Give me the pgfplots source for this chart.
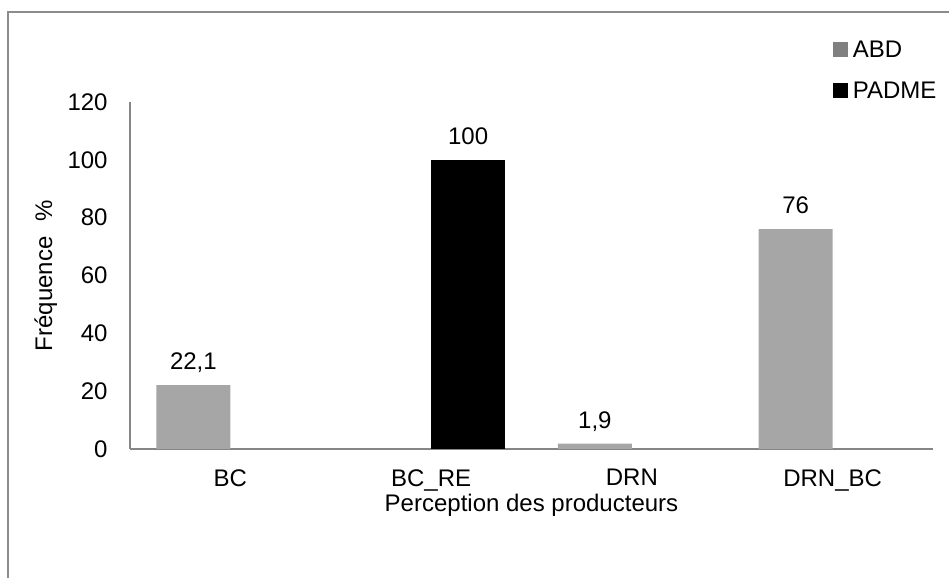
\documentclass[border=0pt,12pt]{standalone}
\usepackage{fontspec}
\setmainfont{Liberation Sans}
\usepackage{pgfplots}
\pgfplotsset{compat=1.18}
\definecolor{abdbar}{HTML}{A6A6A6}
\definecolor{abdleg}{HTML}{808080}
\definecolor{axgray}{HTML}{868686}
\definecolor{framegray}{HTML}{8C8C8C}
\begin{document}
\begin{tikzpicture}[font=\fontsize{12pt}{14pt}\selectfont]
\path[use as bounding box] (-65pt,-64.5pt) rectangle (409.5pt,224.5pt);
\draw[framegray, line width=0.75pt] (-61pt,-64.5pt) -- (-61pt,218.5pt) -- (409.5pt,218.5pt);
\begin{axis}[
  scale only axis,
  width=401.5pt, height=173.5pt,
  xmin=-0.5, xmax=3.5, ymin=0, ymax=120,
  enlargelimits=false,
  axis lines=left,
  axis line style={axgray, line width=1pt, -},
  major tick length=0pt,
  tick style={draw=none},
  xtick={0,1,2,3},
  xticklabels={BC,BC\_RE,DRN,DRN\_BC},
  ytick={0,20,40,60,80,100,120},
  /pgf/number format/assume math mode=true,
  /pgf/number format/use comma,
  /pgf/number format/1000 sep={},
  yticklabel style={anchor=east, inner sep=0pt, xshift=-11pt},
  xticklabel style={anchor=north, inner sep=0pt, yshift=-10pt},
  xlabel={Perception des producteurs},
  xlabel style={at={(axis description cs:0.5,0)}, anchor=north, inner sep=0pt, yshift=-22.5pt},
  ylabel={Fréquence\hspace{4.2pt}\ \%},
  ylabel style={at={(axis description cs:-0.0971,0.5)}, anchor=base, inner sep=0pt},
  ybar,
  bar width=37pt,
  nodes near coords,
  every node near coord/.append style={anchor=south, inner sep=0pt, text depth=0pt, yshift=7.5pt, black},
  legend style={at={(axis description cs:0.8755,1.1775)}, anchor=north west, draw=none, fill=none,
    inner sep=0pt, outer sep=0pt, row sep=11.9pt, column sep=2.5pt,
    nodes={inner sep=0pt, text height=8.6pt, text depth=0pt}},
  legend cell align=left,
]
\addplot[fill=abdbar, draw=none, bar shift=-18.5pt, forget plot] coordinates {(0,22.1) (2,1.9) (3,76)};
\addplot[fill=black, draw=none, bar shift=18.5pt, forget plot] coordinates {(1,100)};
\addlegendimage{legend image code/.code={\fill[abdleg] (0pt,-3.5pt) rectangle (7pt,3.5pt);}}
\addlegendentry{ABD}
\addlegendimage{legend image code/.code={\fill[black] (0pt,-3.5pt) rectangle (7pt,3.5pt);}}
\addlegendentry{PADME}
\end{axis}
\end{tikzpicture}
\end{document}
